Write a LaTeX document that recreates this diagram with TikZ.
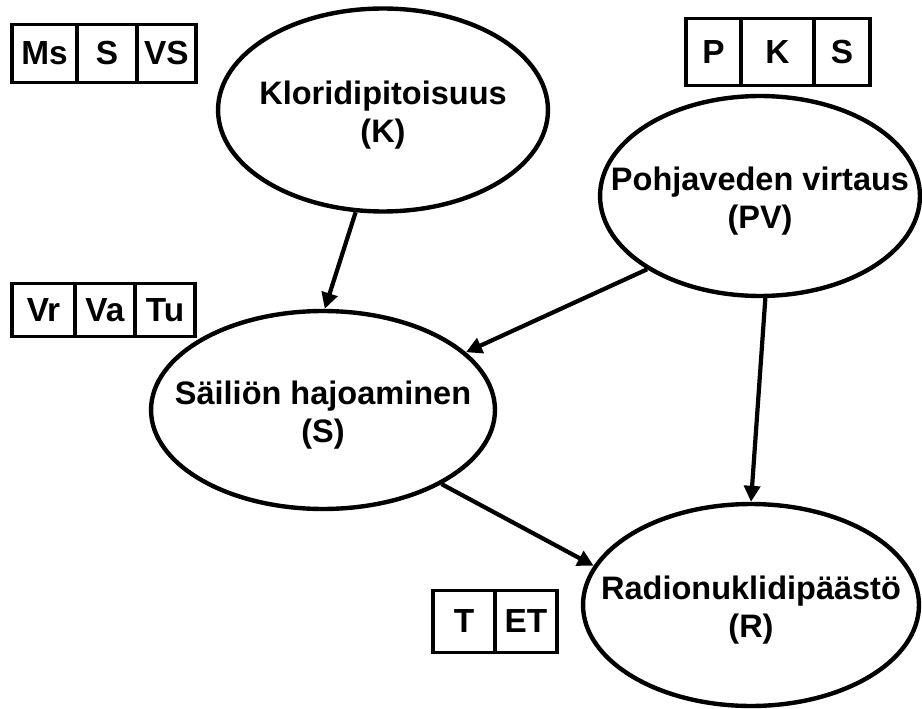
\documentclass[tikz,border=0pt]{standalone}
\usepackage{fontspec}
\setmainfont{Liberation Sans}
\usetikzlibrary{shapes.geometric,positioning,arrows.meta}

\tikzset{
  var/.style={ellipse,draw,line width=2.5pt,inner sep=0pt,
    label={[font=\fontsize{18.5}{21.5}\selectfont\bfseries,align=center,yshift=-3pt]center:#1}},
  cell/.style={rectangle,draw,line width=2.2pt,outer sep=0pt,inner sep=0pt,
    font=\fontsize{19}{22}\selectfont\bfseries},
  link/.style={line width=2.4pt,-{Triangle[length=0.32cm,width=0.32cm]}}
}

\begin{document}
\begin{tikzpicture}[x=0.02cm,y=-0.02cm]
   \useasboundingbox (0,0) rectangle (922,709);
   % muuttujat
   \node[var={Kloridipitoisuus\\(K)},minimum width=6.6cm,minimum height=4.06cm] (K) at (383,110) {};
   \node[var={Pohjaveden virtaus\\(PV)},minimum width=6.4cm,minimum height=4cm] (PV) at (760,196) {};
   \node[var={Säiliön hajoaminen\\(S)},minimum width=6.88cm,minimum height=3.96cm] (S) at (323,410) {};
   \node[var={Radionuklidipäästö\\(R)},minimum width=6.72cm,minimum height=4.04cm] (R) at (751,605) {};
   % tilat
   \begin{scope}[every node/.append style={cell,minimum height=1.16cm}]
    \node[minimum width=1.3cm] (Ms) at (44.5,53.5) {Ms};
    \node[minimum width=1.2cm,right=0pt of Ms] (KS) {S};
    \node[minimum width=1.18cm,right=0pt of KS] (KVS) {VS};
   \end{scope}
   \begin{scope}[every node/.append style={cell,minimum height=1.34cm}]
    \node[minimum width=1.1cm] (PVP) at (713.5,52) {P};
    \node[minimum width=1.46cm,right=0pt of PVP] (PVK) {K};
    \node[minimum width=1.12cm,right=0pt of PVK] (PVS) {S};
   \end{scope}
   \begin{scope}[every node/.append style={cell,minimum height=1.06cm}]
    \node[minimum width=1.26cm] (Vr) at (43.5,310) {Vr};
    \node[minimum width=1.2cm,right=0pt of Vr] (Va) {Va};
    \node[minimum width=1.2cm,right=0pt of Va] (Tu) {Tu};
   \end{scope}
   \begin{scope}[every node/.append style={cell,minimum height=1.24cm}]
    \node[minimum width=1.24cm] (T) at (464,621.5) {T};
    \node[minimum width=1.24cm,right=0pt of T] (ET) {ET};
   \end{scope}
   % riippuvuudet
   \draw[link] (K.255) -- (S.89);
   \draw[link] (PV.213) -- (S.22.5);
   \draw[link] (PV.273) -- (R.90);
   \draw[link] (S.328) -- (R.166);
\end{tikzpicture}
\end{document}
